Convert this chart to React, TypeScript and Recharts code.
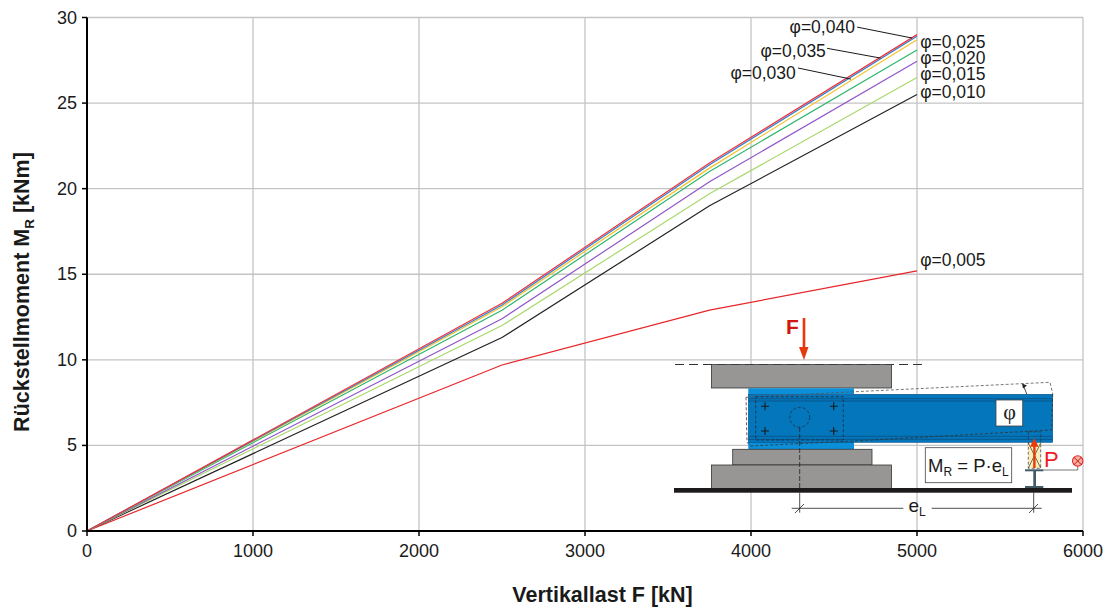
import { LineChart, Line, XAxis, YAxis, CartesianGrid, ReferenceLine, Label } from 'recharts';

const FONT = '"Liberation Sans", Arial, sans-serif';

const loads = [0, 2500, 3750, 5000];
const phi005 = [0, 9.7, 12.9, 15.2];
const phi010 = [0, 11.3, 19.0, 25.5];
const phi015 = [0, 12.0, 19.7, 26.5];
const phi020 = [0, 12.4, 20.4, 27.45];
const phi025 = [0, 12.9, 21.0, 28.1];
const phi030 = [0, 13.1, 21.2, 28.7];
const phi035 = [0, 13.2, 21.4, 28.9];
const phi040 = [0, 13.3, 21.5, 29.0];

const xTicks = [0, 1000, 2000, 3000, 4000, 5000, 6000];
const yTicks = [0, 5, 10, 15, 20, 25, 30];

const data = loads.map((f, i) => ({
    f,
    phi005: phi005[i],
    phi010: phi010[i],
    phi015: phi015[i],
    phi020: phi020[i],
    phi025: phi025[i],
    phi030: phi030[i],
    phi035: phi035[i],
    phi040: phi040[i],
}));

const series = [
    { key: 'phi005', color: '#e8262a' },
    { key: 'phi010', color: '#222222' },
    { key: 'phi015', color: '#a8d86a' },
    { key: 'phi020', color: '#9055c8' },
    { key: 'phi025', color: '#2fb56e' },
    { key: 'phi030', color: '#f5c22c' },
    { key: 'phi035', color: '#2f7fd0' },
    { key: 'phi040', color: '#f0323c' },
];

// labels at the right end of the curves: [load, moment, text]
const rightLabels: [number, number, string][] = [
    [5000, 28.57, 'φ=0,025'],
    [5000, 27.63, 'φ=0,020'],
    [5000, 26.7, 'φ=0,015'],
    [5000, 25.65, 'φ=0,010'],
    [5000, 15.83, 'φ=0,005'],
];

// labels left of the leader lines: [load, moment, text]
const leftLabels: [number, number, string][] = [
    [4627, 29.44, 'φ=0,040'],
    [4452, 28.04, 'φ=0,035'],
    [4271, 26.76, 'φ=0,030'],
];

// leader lines from label to curve: [x1, y1, x2, y2]
const leaders: [number, number, number, number][] = [
    [4639, 29.44, 4970, 28.8],
    [4458, 28.2, 4780, 27.63],
    [4283, 27.05, 4602, 26.4],
];

const Tick = ({ x, y, payload, axis }: any) =>
    axis === 'x' ? (
        <text x={x} y={y + 19} textAnchor="middle" fontSize={18} fontFamily={FONT} fill="#1a1a1a">{payload.value}</text>
    ) : (
        <text x={x - 3} y={y + 6} textAnchor="end" fontSize={18} fontFamily={FONT} fill="#1a1a1a">{payload.value}</text>
    );

const Sketch = () => (
    <svg width={1107} height={608} style={{ position: 'absolute', left: 0, top: 0, pointerEvents: 'none' }} fontFamily={FONT}>
        {/* F arrow */}
        <text x={786} y={334} fontSize={21} fontWeight="bold" fill="#d01810">F</text>
        <rect x={802.7} y={318} width={2.6} height={30} fill="#e8380d" />
        <polygon points="799,347 808.5,347 804,360" fill="#e8380d" />
        <line x1={675} y1={364.5} x2={927} y2={364.5} stroke="#333" strokeWidth={1} strokeDasharray="9 5" />

        {/* concrete blocks */}
        <rect x={711.5} y={364.5} width={180} height={23.5} fill="#979694" stroke="#333" strokeWidth={0.8} />
        <rect x={748.3} y={388.3} width={105.7} height={6} fill="#0a8fd8" />
        <rect x={748.3} y={442} width={105.7} height={7.3} fill="#0a8fd8" />
        <rect x={732.7} y={449.3} width={139.3} height={15.7} fill="#979694" stroke="#333" strokeWidth={0.8} />
        <rect x={711.5} y={465} width={180} height={23.5} fill="#979694" stroke="#333" strokeWidth={0.8} />
        <rect x={674} y={488} width={398} height={4.7} fill="#1c1a1a" />

        {/* beam */}
        <rect x={748.3} y={394.3} width={304.4} height={48} fill="#0476bb" stroke="#0a4f80" strokeWidth={0.6} />
        <line x1={748.3} y1={398.7} x2={1052.7} y2={398.7} stroke="#0a4f80" strokeWidth={0.8} />
        <line x1={748.3} y1={401} x2={1052.7} y2={401} stroke="#0a4f80" strokeWidth={0.8} />
        <line x1={748.3} y1={436.3} x2={1052.7} y2={436.3} stroke="#0a4f80" strokeWidth={0.8} />
        <line x1={748.3} y1={439.3} x2={1052.7} y2={439.3} stroke="#0a4f80" strokeWidth={0.8} />

        {/* rotated outline */}
        <polyline points="746,397.3 855,391.7 1050,382.3 1052.7,394" fill="none" stroke="#555" strokeWidth={0.8} strokeDasharray="3 2" />
        <polyline points="746,397.3 747,442 750,446 854,441 1051.7,430 1052.7,394" fill="none" stroke="#333" strokeWidth={0.8} strokeDasharray="3 2" />
        <rect x={755.7} y={396.7} width={87.6} height={43.3} fill="none" stroke="#223" strokeWidth={0.7} strokeDasharray="3 2" />
        <circle cx={799.7} cy={417.3} r={10} fill="none" stroke="#223" strokeWidth={0.7} strokeDasharray="3 2" />
        <line x1={1026.7} y1={394} x2={1024} y2={387} stroke="#222" strokeWidth={0.8} />
        <polygon points="1022,383.5 1027,385.5 1023,388.5" fill="#222" />
        {[[765, 406.3], [833.7, 406.3], [765, 431], [833.7, 431]].map(([cx, cy]) => (
            <path key={`${cx}-${cy}`} d={`M${cx - 4} ${cy}H${cx + 4}M${cx} ${cy - 4}V${cy + 4}`} stroke="#1a1a1a" strokeWidth={1.1} />
        ))}

        {/* phi box */}
        <rect x={996} y={400} width={26.7} height={26} fill="#fff" stroke="#444" strokeWidth={0.8} />
        <text x={1009.5} y={419} textAnchor="middle" fontSize={22} fontFamily='"Liberation Serif", serif' fill="#222">φ</text>

        {/* press with P */}
        <rect x={1028.3} y={443} width={12.4} height={25} fill="#f8efb8" />
        <rect x={1028.3} y={431.7} width={12.4} height={36.6} fill="none" stroke="#333" strokeWidth={0.7} strokeDasharray="3 2" />
        <path d="M1028.3 443L1040.7 468M1040.7 443L1028.3 468" stroke="#333" strokeWidth={0.7} />
        <rect x={1033.2} y={446} width={2.4} height={22} fill="#e8380d" />
        <polygon points="1030,446.7 1038.6,446.7 1034.3,438.3" fill="#e8380d" />
        <rect x={1025} y={469.3} width={18.3} height={2} fill="#445a66" />
        <rect x={1033.3} y={471} width={2.7} height={15} fill="#445a66" />
        <rect x={1025} y={486} width={18.3} height={2} fill="#445a66" />
        <text x={1044} y={466.7} fontSize={22} fill="#f01c24">P</text>
        <polyline points="1043,470 1077.7,470 1077.7,466" fill="none" stroke="#555" strokeWidth={0.8} />
        <circle cx={1077.7} cy={461} r={5.2} fill="#f8b0a0" stroke="#e8262a" strokeWidth={1.1} />
        <path d="M1074 457.3L1081.4 464.7M1081.4 457.3L1074 464.7" stroke="#c01818" strokeWidth={1} />

        {/* M_R box */}
        <rect x={925.3} y={447.7} width={86.4} height={35} fill="#fff" stroke="#444" strokeWidth={0.8} />
        <text x={928} y={472.3} fontSize={18.5} fill="#1a1a1a">
            M<tspan fontSize={12} dy={4}>R</tspan><tspan dy={-4}> = P·e</tspan><tspan fontSize={12} dy={4}>L</tspan>
        </text>

        {/* lever arm */}
        <line x1={799.7} y1={427} x2={799.7} y2={488} stroke="#222" strokeWidth={0.8} strokeDasharray="5 2" />
        <line x1={799.7} y1={492.7} x2={799.7} y2={512.7} stroke="#222" strokeWidth={0.8} />
        <line x1={1033.7} y1={492.7} x2={1033.7} y2={512.7} stroke="#222" strokeWidth={0.8} />
        <line x1={791.7} y1={508.3} x2={903.3} y2={508.3} stroke="#222" strokeWidth={0.8} />
        <line x1={931.7} y1={508.3} x2={1041.7} y2={508.3} stroke="#222" strokeWidth={0.8} />
        <path d="M795 513L804 504M1029 513L1038 504" stroke="#222" strokeWidth={0.8} />
        <text x={908.5} y={511.7} fontSize={19} fill="#1a1a1a">e<tspan fontSize={12} dy={4}>L</tspan></text>
    </svg>
);

export default function App() {
    return (
        <div style={{ position: 'absolute', left: 0, top: 0, width: 1107, height: 608, background: '#fff' }}>
            <LineChart
                width={1107}
                height={608}
                data={data}
                margin={{ top: 17.5, right: 24, bottom: 0, left: 0 }}
            >
                <CartesianGrid stroke="#c4c4c4" strokeWidth={1.3} horizontalValues={yTicks} verticalValues={xTicks} />
                <XAxis
                    dataKey="f"
                    type="number"
                    domain={[0, 6000]}
                    ticks={xTicks}
                    interval={0}
                    height={77}
                    axisLine={{ stroke: '#000', strokeWidth: 2 }}
                    tickLine={{ stroke: '#000', strokeWidth: 1.5 }}
                    tickSize={5}
                    tick={<Tick axis="x" />}
                />
                <YAxis
                    type="number"
                    domain={[0, 30]}
                    ticks={yTicks}
                    interval={0}
                    width={87}
                    axisLine={{ stroke: '#000', strokeWidth: 2 }}
                    tickLine={{ stroke: '#000', strokeWidth: 1.5 }}
                    tickSize={5}
                    tick={<Tick axis="y" />}
                />
                {series.map((s) => (
                    <Line
                        key={s.key}
                        dataKey={s.key}
                        type="linear"
                        stroke={s.color}
                        strokeWidth={1.2}
                        dot={false}
                        activeDot={false}
                        isAnimationActive={false}
                    />
                ))}
                {leaders.map(([x1, y1, x2, y2]) => (
                    <ReferenceLine
                        key={x1}
                        segment={[{ x: x1, y: y1 }, { x: x2, y: y2 }]}
                        stroke="#1a1a1a"
                        strokeWidth={1}
                    />
                ))}
                {leftLabels.map(([x, y, text]) => (
                    <ReferenceLine key={text} segment={[{ x: x - 1, y }, { x, y }]} stroke="none">
                        <Label value={text} position="left" offset={0} style={{ fontFamily: FONT, fontSize: 17.5, fill: '#1a1a1a' }} />
                    </ReferenceLine>
                ))}
                {rightLabels.map(([x, y, text]) => (
                    <ReferenceLine key={text} segment={[{ x, y }, { x: x + 1, y }]} stroke="none">
                        <Label value={text} position="right" offset={3} style={{ fontFamily: FONT, fontSize: 17.5, fill: '#1a1a1a' }} />
                    </ReferenceLine>
                ))}
            </LineChart>
            <div style={{ position: 'absolute', left: 602.5, top: 595, transform: 'translate(-50%, -50%)', whiteSpace: 'nowrap', fontFamily: FONT, fontSize: 21.5, fontWeight: 'bold', color: '#1a1a1a' }}>
                Vertikallast F [kN]
            </div>
            <div style={{ position: 'absolute', left: 22, top: 292, transform: 'translate(-50%, -50%) rotate(-90deg)', whiteSpace: 'nowrap', fontFamily: FONT, fontSize: 21.5, fontWeight: 'bold', color: '#1a1a1a' }}>
                Rückstellmoment M<sub style={{ fontSize: 13.5, lineHeight: 0 }}>R</sub> [kNm]
            </div>
            <Sketch />
        </div>
    );
}
